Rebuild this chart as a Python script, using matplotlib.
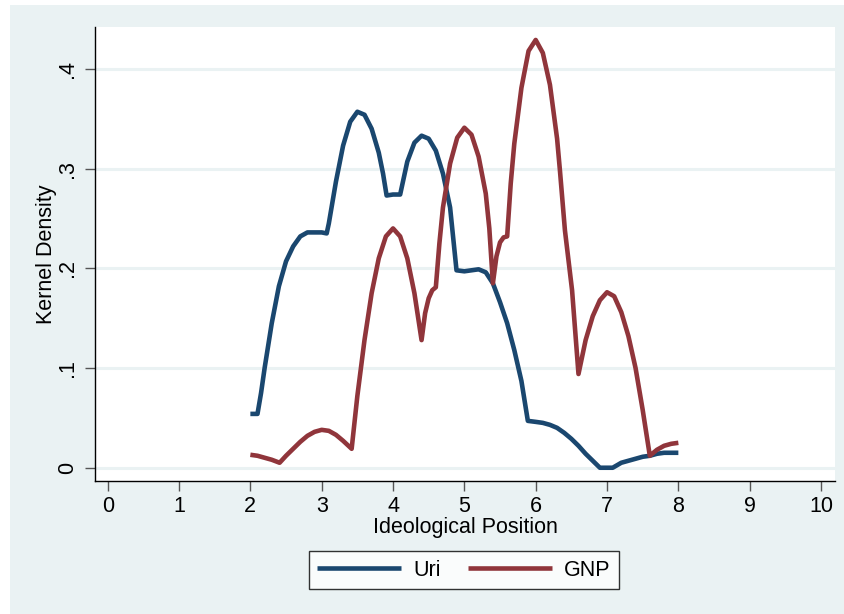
import matplotlib
matplotlib.use("Agg")
import matplotlib.pyplot as plt
from matplotlib.patches import Rectangle

plt.rcParams['font.family'] = ['Liberation Sans', 'DejaVu Sans']

# Data
uri_x = [2.0, 2.1, 2.15, 2.2, 2.3, 2.4, 2.5, 2.6, 2.7, 2.8, 2.9, 3.0, 3.07, 3.1, 3.2,
         3.3, 3.4, 3.5, 3.6, 3.7, 3.8, 3.86, 3.91, 4.0, 4.1, 4.2, 4.3, 4.4, 4.5, 4.6,
         4.7, 4.8, 4.89, 5.0, 5.1, 5.2, 5.3, 5.4, 5.5, 5.6, 5.7, 5.8, 5.89, 6.0, 6.1,
         6.2, 6.3, 6.4, 6.5, 6.6, 6.7, 6.8, 6.9, 7.0, 7.08, 7.2, 7.3, 7.4, 7.5, 7.6,
         7.7, 7.8, 8.0]
uri_y = [0.054, 0.054, 0.075, 0.100, 0.145, 0.182, 0.207, 0.222, 0.232, 0.236, 0.236,
         0.236, 0.235, 0.245, 0.287, 0.323, 0.347, 0.357, 0.354, 0.340, 0.316, 0.295,
         0.273, 0.274, 0.274, 0.307, 0.326, 0.333, 0.330, 0.318, 0.295, 0.261, 0.198,
         0.197, 0.198, 0.199, 0.196, 0.185, 0.166, 0.145, 0.118, 0.087, 0.047, 0.046,
         0.045, 0.043, 0.040, 0.035, 0.029, 0.022, 0.014, 0.007, 0.0, 0.0, 0.0, 0.005,
         0.007, 0.009, 0.011, 0.012, 0.014, 0.015, 0.015]

gnp_x = [2.0, 2.1, 2.2, 2.3, 2.41, 2.5, 2.6, 2.7, 2.8, 2.9, 3.0, 3.1, 3.2, 3.3, 3.42,
         3.5, 3.6, 3.7, 3.8, 3.9, 4.0, 4.1, 4.2, 4.3, 4.4, 4.45, 4.5, 4.55, 4.6, 4.65,
         4.7, 4.8, 4.9, 5.0, 5.1, 5.2, 5.3, 5.35, 5.4, 5.45, 5.5, 5.55, 5.6, 5.65,
         5.7, 5.8, 5.9, 6.0, 6.1, 6.2, 6.3, 6.34, 6.41, 6.51, 6.6, 6.7, 6.8, 6.9,
         7.0, 7.1, 7.2, 7.3, 7.4, 7.5, 7.6, 7.7, 7.8, 7.9, 8.0]
gnp_y = [0.013, 0.012, 0.010, 0.008, 0.005, 0.012, 0.019, 0.026, 0.032, 0.036, 0.038,
         0.037, 0.033, 0.027, 0.019, 0.072, 0.128, 0.175, 0.210, 0.232, 0.240, 0.232,
         0.210, 0.175, 0.128, 0.155, 0.170, 0.178, 0.181, 0.225, 0.261, 0.305, 0.331,
         0.341, 0.334, 0.312, 0.275, 0.240, 0.185, 0.212, 0.226, 0.231, 0.232, 0.285,
         0.325, 0.381, 0.418, 0.429, 0.416, 0.384, 0.330, 0.298, 0.238, 0.178, 0.094,
         0.128, 0.152, 0.168, 0.176, 0.172, 0.156, 0.132, 0.100, 0.058, 0.012, 0.018,
         0.022, 0.024, 0.025]

x_ticks = list(range(0, 11))
y_ticks = [0, 0.1, 0.2, 0.3, 0.4]
y_tick_labels = ['0', '.1', '.2', '.3', '.4']
series_labels = ['Uri', 'GNP']

NAVY = '#1A476F'
MAROON = '#90353B'
BG = '#EAF2F3'
FS = 15.5

W, H = 844, 614
fig = plt.figure(figsize=(W / 100, H / 100), dpi=100, facecolor='white')
fig.patches.append(Rectangle((10 / W, 0), (W - 10) / W, (H - 5) / H,
                             transform=fig.transFigure, facecolor=BG,
                             edgecolor='none', zorder=-10))

ax = fig.add_axes([95 / W, 1 - 481 / H, (835 - 95) / W, (481 - 27) / H])
ax.set_facecolor('white')

ax.plot(uri_x, uri_y, color=NAVY, lw=3.3, label=series_labels[0], zorder=3,
        solid_joinstyle='round', solid_capstyle='butt')
ax.plot(gnp_x, gnp_y, color=MAROON, lw=3.3, label=series_labels[1], zorder=3,
        solid_joinstyle='round', solid_capstyle='butt')

ax.set_xlim(-0.178, 10.196)
ax.set_ylim(-0.0133, 0.442)

ax.set_xticks(x_ticks)
ax.set_yticks(y_ticks)
ax.set_yticklabels(y_tick_labels, rotation=90, va='center')
ax.tick_params(axis='both', direction='out', length=7, width=1,
               color='#555555', labelsize=FS, labelcolor='black')
ax.tick_params(axis='y', pad=5)
ax.tick_params(axis='x', pad=4)

ax.yaxis.grid(True, color=BG, lw=2.2, zorder=0)
ax.set_axisbelow(True)

for s in ['top', 'right']:
    ax.spines[s].set_visible(False)
for s in ['left', 'bottom']:
    ax.spines[s].set_color('black')
    ax.spines[s].set_linewidth(1.0)

ax.set_xlabel('Ideological Position', fontsize=FS, labelpad=0)
ax.set_ylabel('Kernel Density', fontsize=FS, labelpad=0)

leg = fig.legend(loc='center', bbox_to_anchor=(464 / W, 1 - 570 / H), ncol=2,
                 fontsize=FS, frameon=True, fancybox=False, handlelength=3.9,
                 handletextpad=0.55, columnspacing=1.3, borderpad=0.4)
leg.get_frame().set_edgecolor('black')
leg.get_frame().set_linewidth(1.0)
leg.get_frame().set_facecolor('white')

fig.savefig('out.png', dpi=100)
